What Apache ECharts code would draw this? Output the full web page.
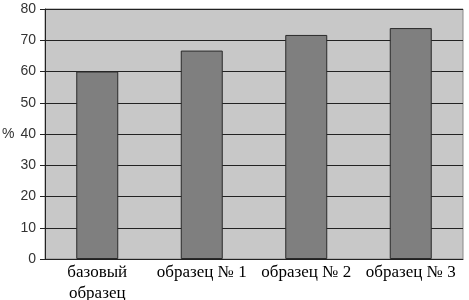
<!DOCTYPE html>
<html><head><meta charset="utf-8">
<script src="https://cdn.jsdelivr.net/npm/echarts@6/dist/echarts.min.js"></script>
<style>html,body{margin:0;padding:0;background:#fff}#c{width:469px;height:300px}</style>
</head><body><div id="c"></div>
<script>
const categories = ['базовый\nобразец', 'образец № 1', 'образец № 2', 'образец № 3'];
const values = [60, 66.7, 71.7, 73.9];
const yTicks = [0, 10, 20, 30, 40, 50, 60, 70, 80];
const yName = '%';

const chart = echarts.init(document.getElementById('c'), null, {renderer: 'canvas'});
chart.setOption({
  animation: false,
  backgroundColor: '#fff',
  grid: {left: 45, right: 6, top: 9, bottom: 41, outerBoundsMode: 'none', containLabel: false,
         show: true, backgroundColor: '#c8c8c8', borderColor: '#8a8a8a', borderWidth: 1},
  graphic: [{type: 'text', left: 2, top: 127, style: {text: yName, font: '14px "Liberation Sans"', fill: '#333'}}],
  xAxis: {
    type: 'category', data: categories,
    axisLine: {show: true, lineStyle: {color: '#222', width: 1}},
    axisTick: {show: false},
    axisLabel: {color: '#000', fontFamily: 'Liberation Serif', fontSize: 17, margin: 3, lineHeight: 21, interval: 0}
  },
  yAxis: {
    type: 'value', min: yTicks[0], max: yTicks[yTicks.length - 1], interval: 10,
    axisLine: {show: true, lineStyle: {color: '#222', width: 1}},
    axisTick: {show: true, length: 5, lineStyle: {color: '#222'}},
    axisLabel: {color: '#333', fontFamily: 'Liberation Sans', fontSize: 14, margin: 9},
    splitLine: {show: true, lineStyle: {color: '#222', width: 1}}
  },
  series: [{
    type: 'bar', data: values, barWidth: 42,
    itemStyle: {color: '#7f7f7f', borderColor: '#2a2a2a', borderWidth: 1}
  }]
});
</script></body></html>
